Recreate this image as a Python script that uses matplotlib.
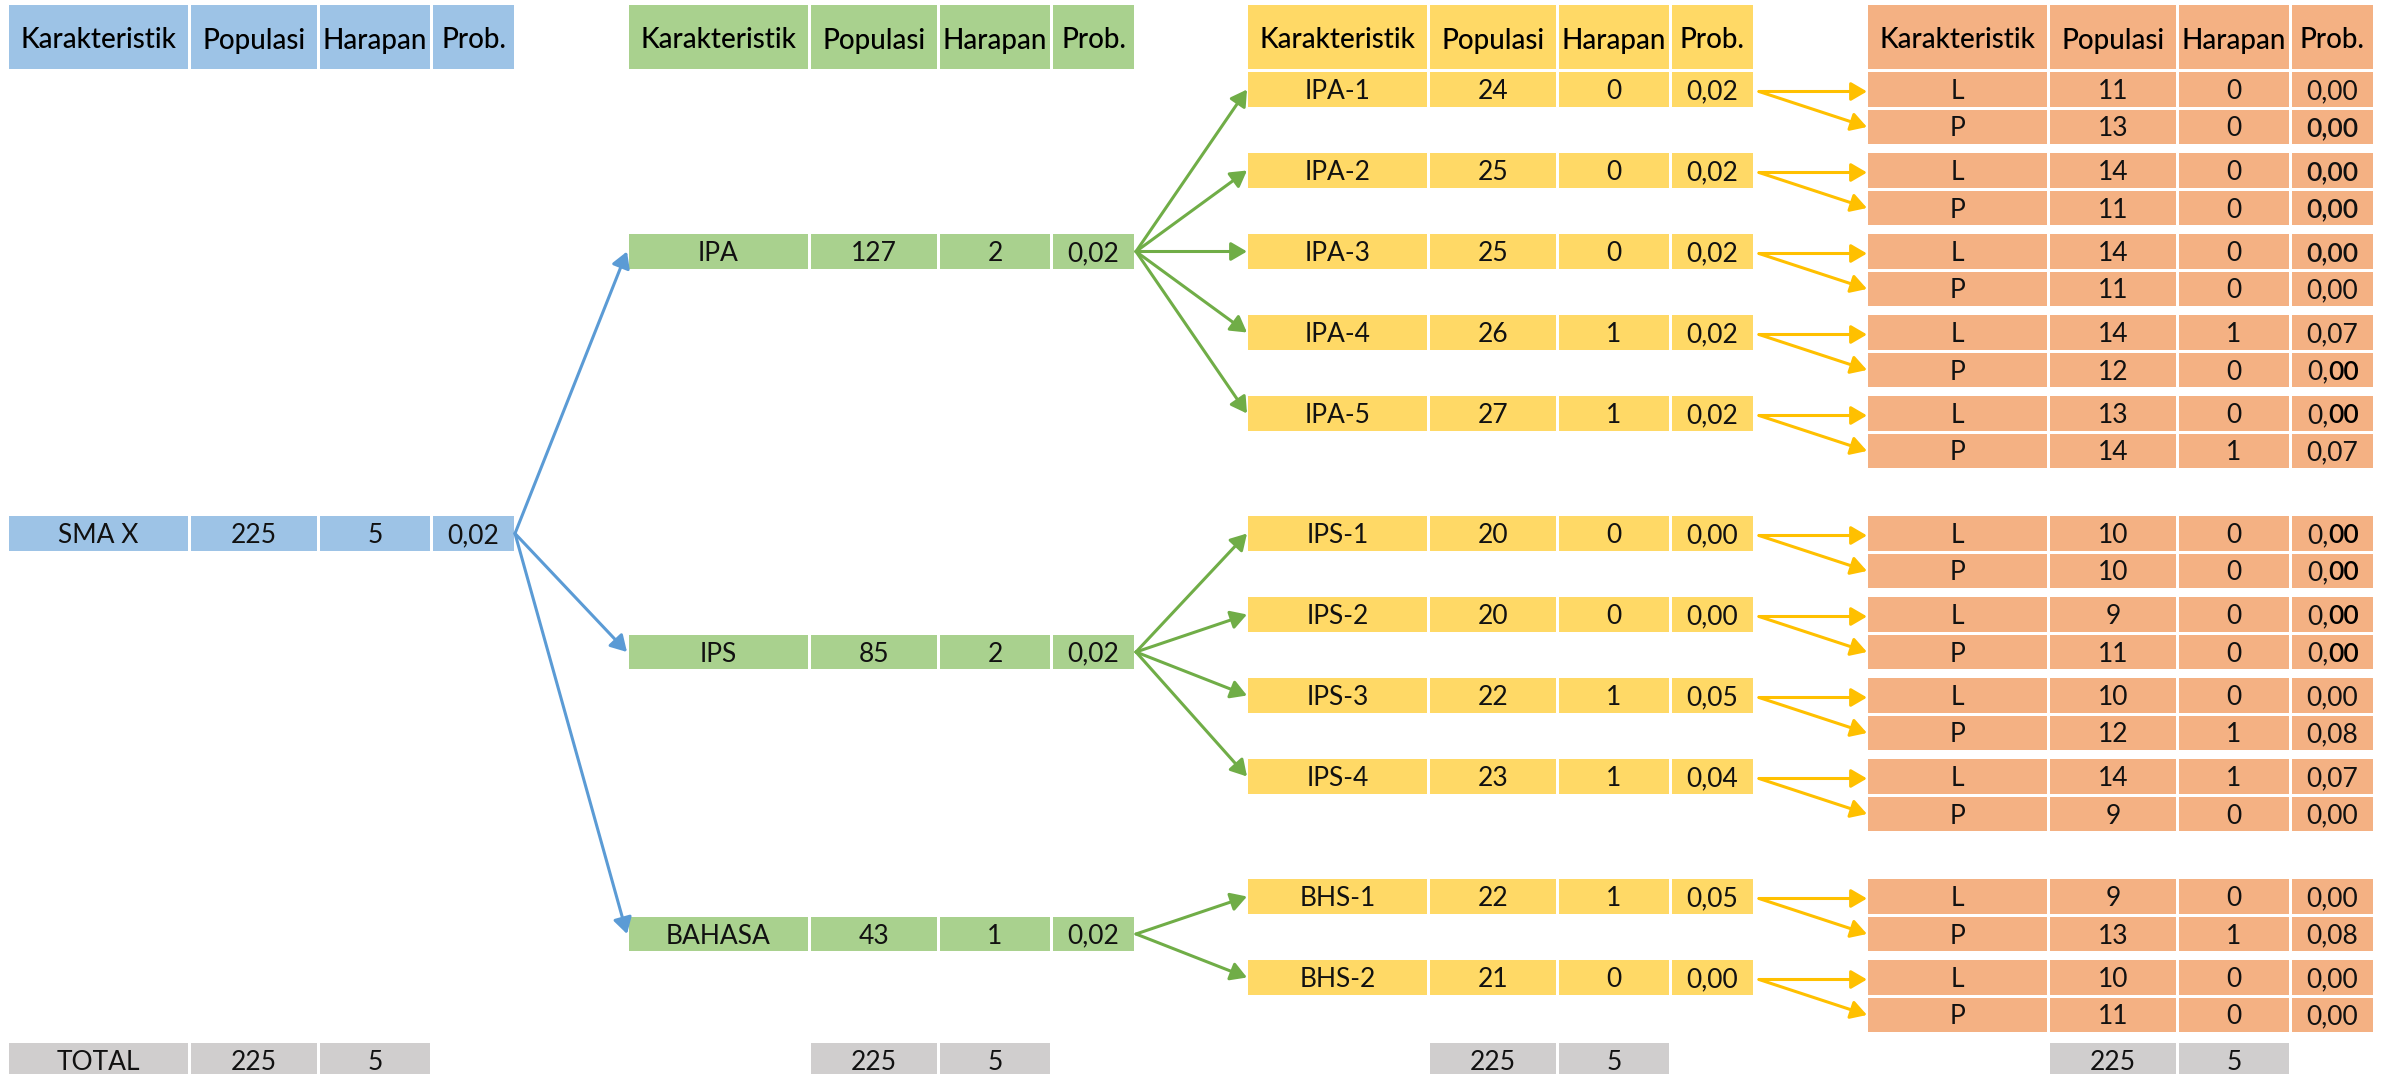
import matplotlib.pyplot as plt
from matplotlib.patches import Rectangle, FancyArrowPatch

plt.rcParams['font.family'] = ['Lato', 'DejaVu Sans']

headers = ['Karakteristik', 'Populasi', 'Harapan', 'Prob.']

# level 0: school
school = 'SMA X'
school_pop = 225
school_har = 5
school_prob = '0,02'

# level 1: majors
majors = ['IPA', 'IPS', 'BAHASA']
major_pop = [127, 85, 43]
major_har = [2, 2, 1]
major_prob = ['0,02', '0,02', '0,02']

# level 2: classes per major
classes = [['IPA-1', 'IPA-2', 'IPA-3', 'IPA-4', 'IPA-5'],
           ['IPS-1', 'IPS-2', 'IPS-3', 'IPS-4'],
           ['BHS-1', 'BHS-2']]
class_pop = [[24, 25, 25, 26, 27], [20, 20, 22, 23], [22, 21]]
class_har = [[0, 0, 0, 1, 1], [0, 0, 1, 1], [1, 0]]
class_prob = [['0,02', '0,02', '0,02', '0,02', '0,02'],
              ['0,00', '0,00', '0,05', '0,04'],
              ['0,05', '0,00']]

# level 3: L / P split of each class (same order as classes)
sex = ['L', 'P']
sex_pop = [(11, 13), (14, 11), (14, 11), (14, 12), (13, 14),
           (10, 10), (9, 11), (10, 12), (14, 9),
           (9, 13), (10, 11)]
sex_har = [(0, 0), (0, 0), (0, 0), (1, 0), (0, 1),
           (0, 0), (0, 0), (0, 1), (1, 0),
           (0, 1), (0, 0)]
sex_prob = [('0,00', '0,00'), ('0,00', '0,00'), ('0,00', '0,00'), ('0,07', '0,00'), ('0,00', '0,07'),
            ('0,00', '0,00'), ('0,00', '0,00'), ('0,00', '0,08'), ('0,07', '0,00'),
            ('0,00', '0,08'), ('0,00', '0,00')]
# how the prob text looks in the sheet: n = plain, b = heavier, m = mixed
sex_prob_look = [('n', 'b'), ('b', 'b'), ('b', 'n'), ('n', 'm'), ('m', 'n'),
                 ('m', 'm'), ('m', 'm'), ('n', 'n'), ('n', 'n'),
                 ('n', 'n'), ('n', 'n')]

total_label = 'TOTAL'
total_pop = 225
total_har = 5

# ---- layout (pixels) ----
W, H = 2394, 1074
fig = plt.figure(figsize=(W / 100, H / 100), dpi=100)
ax = fig.add_axes([0, 0, 1, 1])
ax.set_xlim(0, W)
ax.set_ylim(H, 0)
ax.axis('off')

fill = ['#9DC3E6', '#A9D18E', '#FFD966', '#F4B183']
arrow_col = ['#5B9BD5', '#70AD47', '#FFC000']
gray = '#D0CECE'
ink = '#111111'

col_w = [179, 126, 110, 81]
gap = 3
table_x = [9, 629, 1248, 1868]
fs = 19
fs_head = 20
cap = fs * 100 / 72 * 0.72

head_top, head_h = 5, 64
row_h, p_off, p_h = 35, 38, 34
step = 81
group_gap = 39


def edges(level):
    out = []
    x = table_x[level]
    for w in col_w:
        out.append((x, x + w))
        x += w + gap
    return out


def right_edge(level):
    return edges(level)[-1][1]


def cell(x0, x1, top, h, color, text, look='n'):
    ax.add_patch(Rectangle((x0, top), x1 - x0, h, facecolor=color, edgecolor='none'))
    cx = (x0 + x1) / 2
    base = top + h / 2 + cap / 2
    if look == 'm':
        ax.text(cx - 4, base, text[:2], ha='right', va='baseline', fontsize=fs,
                fontweight='normal', color=ink)
        ax.text(cx - 4, base, text[2:], ha='left', va='baseline', fontsize=fs,
                fontweight='semibold', color='black')
    else:
        w = 'semibold' if look == 'b' else 'normal'
        ax.text(cx, base, str(text), ha='center', va='baseline', fontsize=fs,
                fontweight=w, color=ink)


def row(level, top, h, values, color=None, looks=None):
    color = color or fill[level]
    for i, ((a, b), v) in enumerate(zip(edges(level), values)):
        if v == '':
            continue
        lk = looks[i] if looks else 'n'
        cell(a, b, top, h, color, v, look=lk)


def arrow(p0, p1, color):
    ax.add_patch(FancyArrowPatch(p0, p1, arrowstyle='-|>,head_length=0.48,head_width=0.28',
                                 mutation_scale=20, color=color, lw=2.2,
                                 shrinkA=0, shrinkB=0, zorder=3))


# headers
for lvl in range(4):
    for (a, b), t in zip(edges(lvl), headers):
        ax.add_patch(Rectangle((a, head_top), b - a, head_h, facecolor=fill[lvl], edgecolor='none'))
        ax.text((a + b) / 2, head_top + head_h / 2 + cap / 2 + 2, t, ha='center', va='baseline',
                fontsize=fs_head, fontweight='medium', color='black')

# rows of the class / sex levels
group_top = []
y = 72
for g in range(len(majors)):
    group_top.append(y)
    y += len(classes[g]) * step + group_gap
total_top = y - group_gap + 2

class_mid = []
k = 0
for g, names in enumerate(classes):
    for j, name in enumerate(names):
        top = group_top[g] + j * step
        row(2, top, row_h, [name, class_pop[g][j], class_har[g][j], class_prob[g][j]])
        class_mid.append(top + row_h / 2)
        row(3, top, row_h, [sex[0], sex_pop[k][0], sex_har[k][0], sex_prob[k][0]],
            looks=['n', 'n', 'n', sex_prob_look[k][0]])
        row(3, top + p_off, p_h, [sex[1], sex_pop[k][1], sex_har[k][1], sex_prob[k][1]],
            looks=['n', 'n', 'n', sex_prob_look[k][1]])
        sx = right_edge(2) + 6
        tx = table_x[3] - 1
        arrow((sx, top + row_h / 2 + 2), (tx, top + row_h / 2 + 2), arrow_col[2])
        arrow((sx, top + row_h / 2 + 2), (tx, top + p_off + p_h / 2), arrow_col[2])
        k += 1

# major rows sit next to one of their classes in the sheet
major_slot = [(2, 0), (1, p_off), (0, p_off)]
major_mid = []
k0 = 0
for g, m in enumerate(majors):
    j, off = major_slot[g]
    top = group_top[g] + j * step + off
    h = row_h if off == 0 else p_h
    row(1, top, h, [m, major_pop[g], major_har[g], major_prob[g]])
    mid = top + h / 2
    major_mid.append(mid)
    for j2 in range(len(classes[g])):
        arrow((right_edge(1) + 2, mid), (table_x[2] - 1, class_mid[k0 + j2]), arrow_col[1])
    k0 += len(classes[g])

# school row
top = group_top[1]
row(0, top, row_h, [school, school_pop, school_har, school_prob])
for mid in major_mid:
    arrow((right_edge(0) + 1, top + row_h / 2), (table_x[1] - 2, mid), arrow_col[0])

# totals
row(0, total_top, 34, [total_label, total_pop, total_har, ''], color=gray)
for lvl in range(1, 4):
    row(lvl, total_top, 34, ['', total_pop, total_har, ''], color=gray)

fig.savefig('out.png', dpi=100)
